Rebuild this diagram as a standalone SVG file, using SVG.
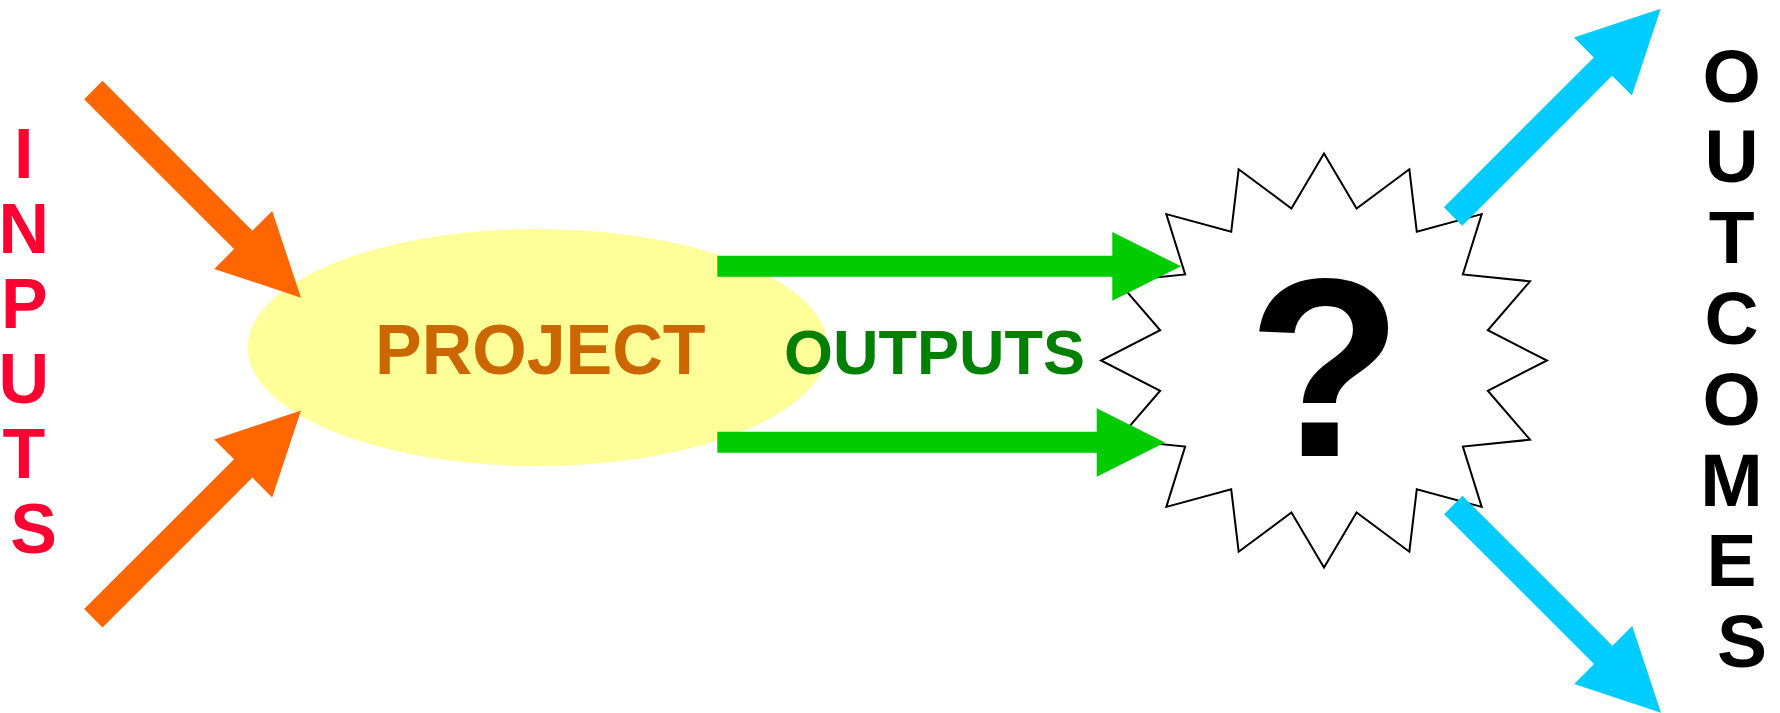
<svg xmlns="http://www.w3.org/2000/svg" xmlns:xlink="http://www.w3.org/1999/xlink" width="1780" height="713" viewBox="0 0 1780 713">
  <style>
    .label { font-family: "Liberation Sans", Arial, sans-serif; font-weight: bold; text-anchor: middle; }
    .inputs { fill: #FF0033; font-size: 70px; }
    .outcomes { fill: #000000; font-size: 75px; }
    .project { font-family: "Liberation Sans", Arial, sans-serif; font-weight: bold; font-size: 70px; fill: #CC6600; }
    .outputs { font-family: "Liberation Sans", Arial, sans-serif; font-weight: bold; font-size: 63px; fill: #008000; }
    .unknown { font-family: "Liberation Sans", Arial, sans-serif; font-weight: bold; font-size: 254px; fill: #000000; text-anchor: middle; }
    .orange { fill: #FF6600; }
    .cyan { fill: #00CCFF; }
    .green { fill: #00CC00; }
  </style>
  <defs>
    <!-- block arrow drawn along +x from its tail at the origin -->
    <polygon id="fat-arrow" points="0,-13 212,-13 212,-41 293.7,0 212,41 212,13 0,13"/>
  </defs>

  <rect width="1780" height="713" fill="#FFFFFF"/>

  <g id="inputs-label">
    <text class="label inputs">
      <tspan x="33.5" y="178.3">I</tspan>
      <tspan x="33.5" y="253.3">N</tspan>
      <tspan x="33.5" y="328.3">P</tspan>
      <tspan x="33.5" y="403.3">U</tspan>
      <tspan x="33.5" y="478.3">T</tspan>
      <tspan x="33.5" y="553.3">S</tspan>
    </text>
  </g>

  <g id="project">
    <ellipse cx="537.7" cy="347.5" rx="290" ry="118.5" fill="#FFFF99"/>
    <text class="project" x="375" y="374">PROJECT</text>
  </g>

  <g id="outputs-label">
    <text class="outputs" x="784" y="374.3">OUTPUTS</text>
  </g>

  <g id="unknown-result">
    <polygon fill="#FFFFFF" stroke="#000000" stroke-width="2" stroke-linejoin="miter"
      points="1324,153.5 1356.58,208.48 1409.34,169.26 1416.78,231.62 1481.69,214.13 1462.86,274.39 1530.03,281.29 1487.79,330.26 1547,360.5 1487.79,390.74 1530.03,439.71 1462.86,446.61 1481.69,506.87 1416.78,489.38 1409.34,551.74 1356.58,512.52 1324,567.5 1291.42,512.52 1238.66,551.74 1231.22,489.38 1166.31,506.87 1185.14,446.61 1117.97,439.71 1160.21,390.74 1101,360.5 1160.21,330.26 1117.97,281.29 1185.14,274.39 1166.31,214.13 1231.22,231.62 1238.66,169.26 1291.42,208.48"/>
    <text class="unknown" x="1325" y="455.7">?</text>
  </g>

  <g id="outcomes-label">
    <text class="label outcomes">
      <tspan x="1742" y="101.5">O</tspan>
      <tspan x="1742" y="182.3">U</tspan>
      <tspan x="1742" y="263.1">T</tspan>
      <tspan x="1742" y="343.9">C</tspan>
      <tspan x="1742" y="424.7">O</tspan>
      <tspan x="1742" y="505.5">M</tspan>
      <tspan x="1742" y="586.3">E</tspan>
      <tspan x="1742" y="667.1">S</tspan>
    </text>
  </g>

  <g id="connectors">
    <!-- inputs into the project -->
    <use xlink:href="#fat-arrow" class="orange" transform="translate(93.3,90) rotate(45)"/>
    <use xlink:href="#fat-arrow" class="orange" transform="translate(93.3,618.3) rotate(-45)"/>
    <!-- outputs towards the unknown result -->
    <polygon class="green" points="717.3,255.7 1112.3,255.7 1112.3,232 1181,266.3 1112.3,300.7 1112.3,276.7 717.3,276.7"/>
    <polygon class="green" points="717.3,431.7 1096.7,431.7 1096.7,408.3 1165,442.4 1096.7,476.7 1096.7,452.7 717.3,452.7"/>
    <!-- outcomes leaving the unknown result -->
    <use xlink:href="#fat-arrow" class="cyan" transform="translate(1453,216.5) rotate(-45)"/>
    <use xlink:href="#fat-arrow" class="cyan" transform="translate(1453.3,505) rotate(45)"/>
  </g>
</svg>
